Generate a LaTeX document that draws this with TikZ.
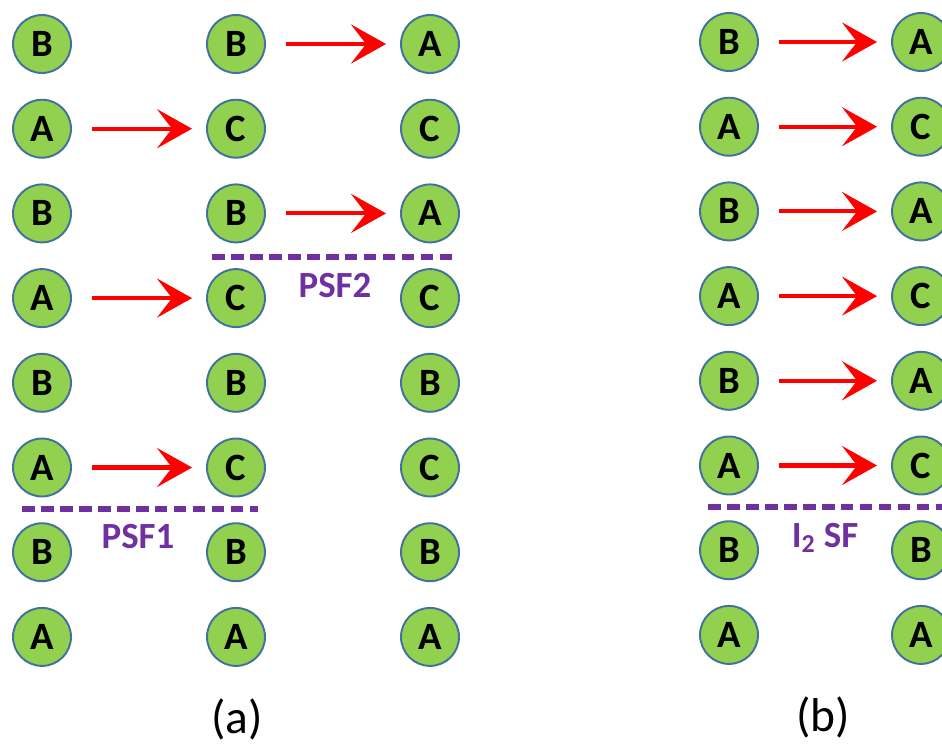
\documentclass[tikz,border=0pt]{standalone}
\usepackage{fontspec}
\setmainfont{Carlito}
\usetikzlibrary{arrows.meta}
\definecolor{atomgreen}{HTML}{92D050}
\definecolor{atomblue}{HTML}{41719C}
\definecolor{faultpurple}{HTML}{7030A0}

\begin{document}
\begin{tikzpicture}[
        x=0.02cm, y=-0.02cm,
        atom/.style={circle, draw=atomblue, fill=atomgreen, line width=1.1pt, minimum size=1.16cm, inner sep=0pt, font=\fontsize{22}{22}\selectfont\bfseries},
        arrow/.style={-{Stealth[length=0.7cm, width=0.78cm, inset=0.3cm]}, red, line width=2.3pt, shorten <=0.4cm, shorten >=0.28cm},
        fault/.style={faultpurple, line width=2.9pt, dash pattern=on 7.2pt off 3.6pt},
        faultlabel/.style={font=\fontsize{21}{21}\selectfont\bfseries, text=faultpurple},
        panel/.style={font=\fontsize{27}{27}\selectfont}
    ]
        \useasboundingbox (0,0) rectangle (942,744);

        % Stacking (a)
        \foreach \l [count=\i] in {B,A,B,A,B,A,B,A}
            \node[atom] (a1-\i) at (42, {44+(\i-1)*84.7}) {\l};
        \foreach \l [count=\i] in {B,C,B,C,B,C,B,A}
            \node[atom] (a2-\i) at (236, {44+(\i-1)*84.7}) {\l};
        \foreach \l [count=\i] in {A,C,A,C,B,C,B,A}
            \node[atom] (a3-\i) at (430, {44+(\i-1)*84.7}) {\l};

        % Stacking (b)
        \foreach \l [count=\i] in {B,A,B,A,B,A,B,A}
            \node[atom] (b1-\i) at (729, {42+(\i-1)*84.7}) {\l};
        \foreach \l [count=\i] in {A,C,A,C,A,C,B,A}
            \node[atom] (b2-\i) at (921, {42+(\i-1)*84.7}) {\l};

        % Shifts
        \foreach \i in {2,4,6}
            \draw[arrow] (a1-\i) -- (a2-\i);
        \foreach \i in {1,3}
            \draw[arrow] (a2-\i) -- (a3-\i);
        \foreach \i in {1,...,6}
            \draw[arrow] (b1-\i) -- (b2-\i);

        % Stacking faults
        \coordinate (psf1-l) at (22,509);
        \coordinate (psf1-r) at (258,509);
        \coordinate (psf2-l) at (212,257);
        \coordinate (psf2-r) at (453,257);
        \coordinate (isf-l) at (708,507);
        \coordinate (isf-r) at (950,507);
        \draw[fault] (psf1-l) -- (psf1-r);
        \draw[fault] (psf2-l) -- (psf2-r);
        \draw[fault] (isf-l) -- (isf-r);
        \node[faultlabel] (psf1) at (138,537) {PSF1};
        \node[faultlabel] (psf2) at (335,286) {PSF2};
        \node[faultlabel] (isf) at (825,538) {I\textsubscript{2} SF};

        % Panels
        \node[panel] (cap-a) at (237,719) {(a)};
        \node[panel] (cap-b) at (823,717) {(b)};
    \end{tikzpicture}
\end{document}
